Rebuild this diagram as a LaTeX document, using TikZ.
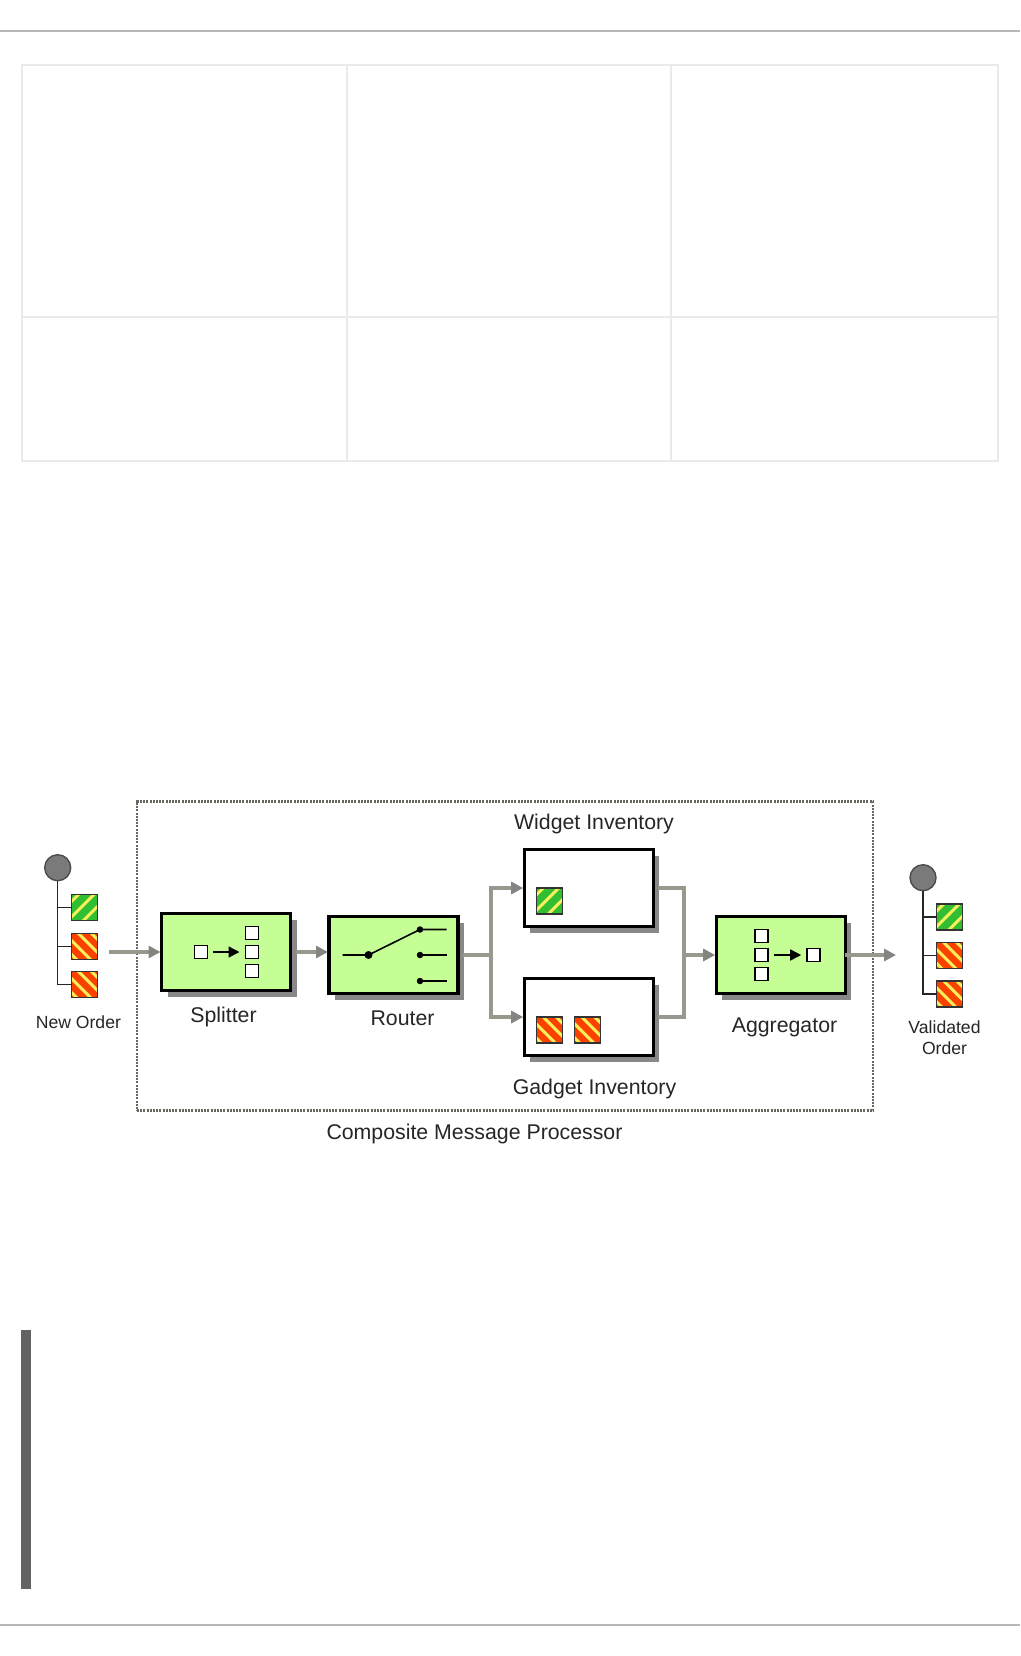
\documentclass[tikz,border=0pt]{standalone}
\usepackage{fontspec}
\setmainfont{Liberation Sans}
\usepackage{xcolor}
\definecolor{ProcessGreen}{RGB}{198,254,150}
\definecolor{MsgGreen}{RGB}{50,190,50}
\definecolor{MsgRed}{RGB}{250,65,0}
\definecolor{MsgYellow}{RGB}{245,240,90}
\definecolor{FlowLine}{RGB}{152,152,140}
\definecolor{FlowHead}{RGB}{132,132,128}
\definecolor{ShadowGray}{RGB}{136,136,136}
\definecolor{RuleGray}{RGB}{184,184,184}
\definecolor{GridGray}{RGB}{234,234,234}
\definecolor{BarGray}{RGB}{99,99,99}
\definecolor{FrameGray}{RGB}{104,104,96}
\usepackage{tikz}
\usetikzlibrary{positioning, shadows, arrows.meta}

\begin{document}
\begin{tikzpicture}[
    x=1pt, y=-1pt,
    every node/.style={outer sep=0pt},
    processbox/.style={
        draw=black,
        line width=3.4pt,
        fill=ProcessGreen,
        minimum width=129pt,
        minimum height=77pt,
        inner sep=0pt,
        drop shadow={shadow xshift=6pt, shadow yshift=-6pt, fill=ShadowGray, opacity=1}
    },
    storebox/.style={processbox, fill=white},
    minibox/.style={draw=black, line width=1.5pt, fill=white, minimum size=13pt, inner sep=0pt},
    msgbox/.style={draw=black!80, line width=1.3pt, minimum size=26pt, inner sep=0pt},
    widgetmsg/.style={msgbox, fill=MsgGreen, path picture={
        \draw[MsgYellow, line width=3pt]
            ([xshift=-39pt, yshift=-20pt]path picture bounding box.center) -- ([xshift=1pt, yshift=20pt]path picture bounding box.center)
            ([xshift=-23.5pt, yshift=-20pt]path picture bounding box.center) -- ([xshift=16.5pt, yshift=20pt]path picture bounding box.center)
            ([xshift=-8pt, yshift=-20pt]path picture bounding box.center) -- ([xshift=32pt, yshift=20pt]path picture bounding box.center);
    }},
    gadgetmsg/.style={msgbox, fill=MsgRed, path picture={
        \draw[MsgYellow, line width=3pt]
            ([xshift=-41pt, yshift=20pt]path picture bounding box.center) -- ([xshift=-1pt, yshift=-20pt]path picture bounding box.center)
            ([xshift=-27pt, yshift=20pt]path picture bounding box.center) -- ([xshift=13pt, yshift=-20pt]path picture bounding box.center)
            ([xshift=-13pt, yshift=20pt]path picture bounding box.center) -- ([xshift=27pt, yshift=-20pt]path picture bounding box.center)
            ([xshift=0pt, yshift=20pt]path picture bounding box.center) -- ([xshift=40pt, yshift=-20pt]path picture bounding box.center);
    }},
    actor/.style={circle, draw=black!70, line width=1.4pt, fill=ShadowGray!90!black, minimum size=26pt, inner sep=0pt},
    caption/.style={inner sep=0pt, align=center, text=black!85, font=\fontsize{21.3}{25}\selectfont},
    smallcaption/.style={caption, font=\fontsize{17.6}{21}\selectfont},
    flowline/.style={draw=FlowLine, line width=3.8pt},
    flow/.style={flowline, shorten <=5pt, shorten >=1pt, -{Triangle[length=12pt, width=12pt, color=FlowHead]}},
    tree/.style={draw=black!85, line width=1.5pt},
    wire/.style={draw=black, line width=1.6pt},
    pin/.style={circle, fill=black, minimum size=6.5pt, inner sep=0pt}
]

% Page furniture
\useasboundingbox (0,0) rectangle (1020,1656);
\fill[white] (0,0) rectangle (1020,1656);
\draw[RuleGray, line width=2pt] (0,31) -- (1020,31);
\draw[RuleGray, line width=2pt] (0,1625) -- (1020,1625);
\draw[GridGray, line width=2pt] (22,65) rectangle (997.5,461);
\draw[GridGray, line width=2pt] (22,317) -- (997.5,317);
\draw[GridGray, line width=2pt] (347,65) -- (347,461);
\draw[GridGray, line width=2pt] (671,65) -- (671,461);
\fill[BarGray] (21,1330) rectangle (31,1589);

% Composite frame
\node[draw=FrameGray, line width=2.4pt, dash pattern=on 2pt off 1.2pt, minimum width=736pt, minimum height=309pt] (composite) at (505,956) {};
\node[caption] (compositelabel) at (474.5,1133.5) {Composite Message Processor};

% Main boxes
\node[processbox] (splitter) at (226,952) {};
\node[processbox] (router) [right=38.5pt of splitter, yshift=-3pt] {};
\node[storebox] (widget) at (588.7,888) {};
\node[storebox] (gadget) [below=52pt of widget] {};
\node[processbox] (aggregator) at (780.7,955) {};

% Captions
\node[caption] (splitterlabel) at (223.5,1017) {Splitter};
\node[caption] (routerlabel) at (402.5,1018) {Router};
\node[caption] (widgetlabel) at (594,824) {Widget Inventory};
\node[caption] (gadgetlabel) at (594.5,1089) {Gadget Inventory};
\node[caption] (aggregatorlabel) at (784.5,1027) {Aggregator};

% New order
\node[actor] (neworder) at (57.7,867.7) {};
\node[widgetmsg] (ordera) at (84.5,907.5) {};
\node[gadgetmsg] (orderb) [below=13pt of ordera] {};
\node[gadgetmsg] (orderc) [below=12pt of orderb] {};
\node[smallcaption] (neworderlabel) at (78.4,1022) {New Order};
\draw[tree] (neworder.south) |- (ordera.west);
\draw[tree] (neworder.south) |- (orderb.west);
\draw[tree] (neworder.south) |- (orderc.west);

% Validated order
\node[actor] (validated) at (923,877.7) {};
\node[widgetmsg] (valida) at (949.7,917) {};
\node[gadgetmsg] (validb) [below=12.5pt of valida] {};
\node[gadgetmsg] (validc) [below=12.5pt of validb] {};
\node[smallcaption] (validatedlabel) at (944.5,1037.5) {Validated\\Order};
\draw[tree] (validated.south) |- (valida.west);
\draw[tree] (validated.south) |- (validb.west);
\draw[tree] (validated.south) |- (validc.west);

% Splitter icon
\node[minibox] (splitin) at ([xshift=-25pt]splitter.center) {};
\node[minibox] (splitb) at ([xshift=26pt]splitter.center) {};
\node[minibox] (splita) [above=6pt of splitb] {};
\node[minibox] (splitc) [below=6pt of splitb] {};
\draw[wire, shorten >=6pt, shorten <=5.5pt, -{Triangle[length=11pt, width=11pt]}] (splitin) -- (splitb);

% Router icon
\node[pin, minimum size=8pt] (switch) at ([xshift=-25pt]router.center) {};
\node[pin] (portb) at ([xshift=26.5pt]router.center) {};
\node[pin] (porta) [above=19pt of portb] {};
\node[pin] (portc) [below=19.5pt of portb] {};
\coordinate (switchin) at ([xshift=-51pt]router.center);
\coordinate (portaout) at ([xshift=26.5pt]porta.center);
\coordinate (portbout) at ([xshift=26.5pt]portb.center);
\coordinate (portcout) at ([xshift=26.5pt]portc.center);
\draw[wire] (switchin) -- (switch.center) -- (porta.center) -- (portaout);
\draw[wire] (portb.center) -- (portbout);
\draw[wire] (portc.center) -- (portcout);

% Inventory contents
\node[widgetmsg] (widgetitem) at ([xshift=-39.5pt, yshift=-13pt]widget.center) {};
\node[gadgetmsg] (gadgetitema) at ([xshift=-39.5pt, yshift=-13pt]gadget.center) {};
\node[gadgetmsg] (gadgetitemb) [right=12.5pt of gadgetitema] {};

% Aggregator icon
\node[minibox] (aggb) at ([xshift=-19pt]aggregator.center) {};
\node[minibox] (agga) [above=6pt of aggb] {};
\node[minibox] (aggc) [below=6pt of aggb] {};
\node[minibox] (aggout) at ([xshift=33pt]aggregator.center) {};
\draw[wire, shorten >=6pt, shorten <=5.5pt, -{Triangle[length=11pt, width=11pt]}] (aggb) -- (aggout);

% Message flow
\coordinate (orderstart) at (109,952);
\coordinate (forkpoint) at (491,955);
\coordinate (mergepoint) at (684,955);
\coordinate (orderend) at (896,955);
\draw[flow, shorten <=0pt] (orderstart) -- (splitter.west);
\draw[flow] (splitter.east) -- (router.west |- splitter.east);
\draw[flowline, shorten <=5pt] (router.east) -- (forkpoint);
\draw[flow, shorten <=0pt] (forkpoint) |- (widget.west);
\draw[flow, shorten <=0pt] (forkpoint) |- (gadget.west);
\draw[flowline, shorten <=5pt] (widget.east) -| (mergepoint);
\draw[flowline, shorten <=5pt] (gadget.east) -| (mergepoint);
\draw[flow, shorten <=0pt] (mergepoint) -- (aggregator.west);
\draw[flow, shorten <=0pt, shorten >=0pt] (aggregator.east) -- (orderend);
\end{tikzpicture}
\end{document}
